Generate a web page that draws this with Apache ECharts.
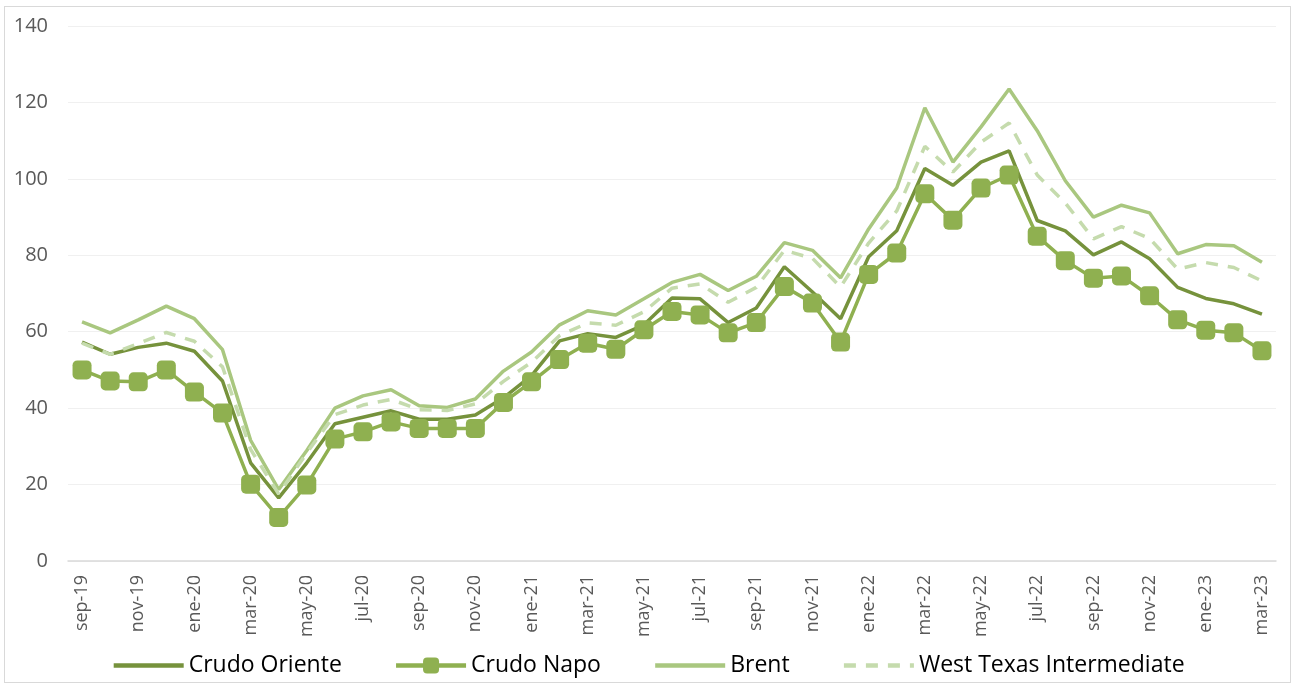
<!DOCTYPE html>
<html>
<head>
<meta charset="utf-8">
<script src="https://cdn.jsdelivr.net/npm/echarts@6/dist/echarts.min.js"></script>
<style>
  html, body { margin: 0; padding: 0; background: #fff; }
  #frame { position: absolute; left: 4px; top: 6px; width: 1287px; height: 677px; border: 1px solid #d9d9d9; box-sizing: border-box; }
  #chart { position: absolute; left: 0; top: 0; width: 1296px; height: 685px; }
</style>
</head>
<body>
<div id="frame"></div>
<div id="chart"></div>
<script>
const categories = [
  'sep-19','oct-19','nov-19','dic-19','ene-20','feb-20','mar-20','abr-20','may-20','jun-20','jul-20','ago-20',
  'sep-20','oct-20','nov-20','dic-20','ene-21','feb-21','mar-21','abr-21','may-21','jun-21','jul-21','ago-21',
  'sep-21','oct-21','nov-21','dic-21','ene-22','feb-22','mar-22','abr-22','may-22','jun-22','jul-22','ago-22',
  'sep-22','oct-22','nov-22','dic-22','ene-23','feb-23','mar-23'
];
const crudoOriente = [
  57.3, 54.1, 55.9, 57.0, 54.9, 47.1, 25.7, 16.5, 25.7, 35.9, 37.6, 39.3,
  37.1, 37.1, 38.2, 42.7, 48.5, 57.6, 59.5, 58.5, 61.8, 68.8, 68.6, 62.4,
  66.2, 77.0, 70.4, 63.4, 79.6, 86.4, 102.7, 98.3, 104.4, 107.3, 89.1, 86.4,
  80.1, 83.5, 79.1, 71.6, 68.7, 67.3, 64.6
];
const crudoNapo = [
  50.0, 47.1, 46.9, 50.0, 44.2, 38.7, 20.1, 11.4, 19.9, 31.9, 33.8, 36.4,
  34.7, 34.7, 34.7, 41.5, 46.9, 52.7, 57.0, 55.4, 60.5, 65.3, 64.4, 59.7,
  62.4, 71.8, 67.5, 57.3, 75.0, 80.6, 96.1, 89.2, 97.6, 101.0, 85.0, 78.6,
  74.0, 74.6, 69.4, 63.1, 60.4, 59.7, 55.0
];
const brent = [
  62.6, 59.7, 63.1, 66.7, 63.4, 55.3, 31.6, 18.7, 28.9, 40.0, 43.2, 44.8,
  40.6, 40.2, 42.4, 49.7, 54.7, 61.8, 65.5, 64.4, 68.6, 72.9, 75.0, 70.8,
  74.5, 83.3, 81.3, 74.1, 86.9, 97.6, 118.6, 104.4, 113.6, 123.5, 112.6, 99.5,
  90.0, 93.1, 91.1, 80.4, 82.8, 82.5, 78.2
];
const wti = [
  57.0, 54.1, 56.9, 59.8, 57.5, 50.8, 29.2, 17.5, 28.3, 38.3, 40.8, 42.3,
  39.6, 39.4, 41.1, 47.0, 52.0, 59.0, 62.3, 61.7, 65.2, 71.4, 72.5, 67.7,
  71.6, 81.3, 79.2, 71.7, 83.2, 91.6, 108.5, 101.8, 109.6, 114.6, 101.0, 93.7,
  84.3, 87.5, 84.4, 76.4, 78.1, 76.8, 73.3
];
const yTicks = { min: 0, max: 140, interval: 20 };

const font = 'Open Sans';
const hideDot = { itemStyle: { opacity: 0 } };
const chart = echarts.init(document.getElementById('chart'), null, { renderer: 'canvas' });
chart.setOption({
  animation: false,
  backgroundColor: 'transparent',
  grid: { left: 68, right: 20, top: 26, bottom: 124, containLabel: false },
  legend: {
    bottom: 3,
    left: 'center',
    itemWidth: 70,
    itemHeight: 20,
    itemGap: 52,
    lineStyle: { width: 4.5 },
    textStyle: { fontFamily: font, fontSize: 23, color: '#000' },
    data: [
      Object.assign({ name: 'Crudo Oriente' }, hideDot),
      { name: 'Crudo Napo' },
      Object.assign({ name: 'Brent' }, hideDot),
      Object.assign({ name: 'West Texas Intermediate' }, hideDot)
    ]
  },
  xAxis: {
    type: 'category',
    data: categories,
    boundaryGap: true,
    axisLine: { lineStyle: { color: '#d9d9d9', width: 1.5 } },
    axisTick: { show: false },
    axisLabel: { interval: 1, rotate: 90, fontFamily: font, fontSize: 18, color: '#595959', margin: 14 }
  },
  yAxis: {
    type: 'value',
    min: yTicks.min, max: yTicks.max, interval: yTicks.interval,
    axisLine: { show: false },
    axisTick: { show: false },
    splitLine: { lineStyle: { color: '#f0f0f0', width: 1 } },
    axisLabel: { fontFamily: font, fontSize: 20, color: '#595959', margin: 20 }
  },
  series: [
    {
      name: 'Crudo Oriente', type: 'line', data: crudoOriente,
      symbol: 'none', lineStyle: { color: '#76923c', width: 3.5 }, itemStyle: { color: '#76923c' }
    },
    {
      name: 'Crudo Napo', type: 'line', data: crudoNapo,
      symbol: 'roundRect', symbolSize: 19, showAllSymbol: true,
      lineStyle: { color: '#8fb050', width: 3.5 }, itemStyle: { color: '#8fb050' }
    },
    {
      name: 'Brent', type: 'line', data: brent,
      symbol: 'none', lineStyle: { color: '#a9c77f', width: 3.5 }, itemStyle: { color: '#a9c77f' }
    },
    {
      name: 'West Texas Intermediate', type: 'line', data: wti,
      symbol: 'none', lineStyle: { color: '#c5dbad', width: 3.5, type: [12, 10] }, itemStyle: { color: '#c5dbad' }
    }
  ]
});
</script>
</body>
</html>
